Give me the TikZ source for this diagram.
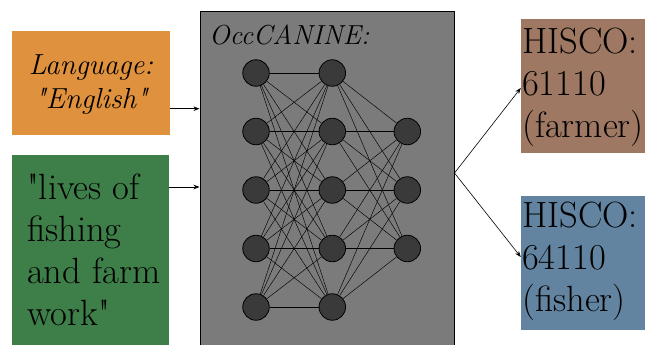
\documentclass[tikz,border=0pt]{standalone}
\usetikzlibrary{arrows.meta}
\definecolor{orng}{HTML}{DF913E}
\definecolor{grn}{HTML}{3E7F49}
\definecolor{gry}{HTML}{7B7B7B}
\definecolor{brwn}{HTML}{9E7862}
\definecolor{blu}{HTML}{6384A0}
\definecolor{neur}{HTML}{3A3A3A}
\newcommand{\dq}{\textquotedbl}
\tikzset{
  box/.style={rectangle, inner sep=0pt, draw=none},
  txt/.style={inner sep=0pt, align=left, anchor=north west, font=\fontsize{36.5}{42}\selectfont},
  neuron/.style={circle, draw=black, line width=0.8pt, fill=neur, minimum size=26.5pt, inner sep=0pt},
  conn/.style={line width=0.45pt, black},
  arr/.style={line width=0.6pt, -{Stealth[length=6pt,width=4.5pt]}}
}
\begin{document}
\begin{tikzpicture}[x=1pt,y=-1pt]
\useasboundingbox (0,0) rectangle (645,345);
\clip (0,0) rectangle (645,345);
% boxes
\node[box, fill=orng, minimum width=158pt, minimum height=104pt] (lang) at (91,83) {};
\node[box, fill=grn, minimum width=157pt, minimum height=195pt] (inp) at (90.5,252.5) {};
\node[box, fill=gry, draw=black, line width=1pt, minimum width=254pt, minimum height=338pt] (model) at (327,181) {};
\node[box, fill=brwn, minimum width=129pt, minimum height=134pt] (farm) at (585.5,86) {};
\node[box, fill=blu, minimum width=129pt, minimum height=134pt] (fish) at (585.5,263) {};
% texts
\node[inner sep=0pt, align=center, anchor=north, font=\fontsize{29}{34}\selectfont\itshape] (langtxt) at (91,50.2) {\strut Language:\\\strut \dq English\dq};
\node[txt] (inptxt) at (27,169.6) {\strut \dq lives of\\\strut fishing\\\strut and farm\\\strut work\dq};
\node[txt] (farmtxt) at (522,23.6) {\strut HISCO:\\\strut 61110\\\strut (farmer)};
\node[txt] (fishtxt) at (522,197.6) {\strut HISCO:\\\strut 64110\\\strut (fisher)};
\node[inner sep=0pt, anchor=base west, font=\fontsize{27.5}{32}\selectfont\itshape] (title) at (209,45) {OccCANINE:};
% neurons
\foreach \i/\y in {1/73,2/131.5,3/190,4/248.5,5/307}{
  \node[neuron] (a\i) at (256,\y) {};
  \node[neuron] (b\i) at (332.3,\y) {};
}
\foreach \i/\y in {1/131.5,2/190,3/248.5}{
  \node[neuron] (c\i) at (407.3,\y) {};
}
\foreach \i in {1,...,5}{
  \foreach \j in {1,...,5}{
    \draw[conn] (a\i) -- (b\j);
  }
  \foreach \j in {1,2,3}{
    \draw[conn] (b\i) -- (c\j);
  }
}
% arrows
\coordinate (s1) at ([yshift=-25.7pt]lang.east);
\coordinate (s2) at ([yshift=65.5pt]inp.east);
\draw[arr] (s1) -- (s1 -| model.west);
\draw[arr] (s2) -- (s2 -| model.west);
\coordinate (o) at ([yshift=8pt]model.east);
\draw[arr] (o) -- ([yshift=-2pt]farm.west);
\draw[arr] (o) -- ([yshift=6pt]fish.west);
\end{tikzpicture}
\end{document}
